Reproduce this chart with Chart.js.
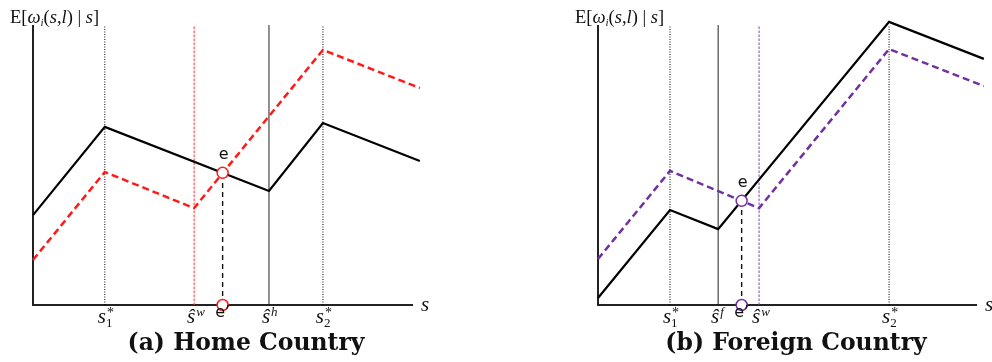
<!DOCTYPE html>
<html>
<head>
<meta charset="utf-8">
<script src="https://cdn.jsdelivr.net/npm/chart.js@4.4.1/dist/chart.umd.min.js"></script>
<style>
  html, body { margin: 0; padding: 0; background: #fff; }
  #wrap { position: relative; width: 992px; height: 362px; overflow: hidden; background: #fff; }
  canvas { position: absolute; top: 0; }
  #home { left: 0; }
  #foreign { left: 496px; }
</style>
</head>
<body>
<div id="wrap">
  <canvas id="home" width="496" height="362"></canvas>
  <canvas id="foreign" width="496" height="362"></canvas>
</div>
<script>
// ---- Home country: expected wage schedules over skill s ----
const homeBlackS = [0, 18.9, 62.1, 76.3, 101.8];
const homeBlackW = [32.1, 63.6, 40.7, 65.0, 51.4];
const homeRedS   = [0, 18.9, 42.4, 76.3, 101.8];
const homeRedW   = [16.1, 47.5, 34.6, 91.1, 77.5];
const homeCuts   = [18.9, 42.4, 62.1, 76.3];          // s1*, ŝw, ŝh, s2*
const homeEq     = [49.9, 47.2];                      // crossing point e

// ---- Foreign country ----
const foreignBlackS  = [0, 19.0, 31.7, 76.8, 101.8];
const foreignBlackW  = [2.5, 33.9, 27.1, 101.1, 87.9];
const foreignPurpleS = [0, 19.0, 42.5, 76.8, 101.8];
const foreignPurpleW = [16.4, 47.9, 34.6, 91.4, 78.2];
const foreignCuts    = [19.0, 31.7, 42.5, 76.8];      // s1*, ŝf, ŝw, s2*
const foreignEq      = [37.9, 37.2];

// ---- tick labels (base glyph, superscript, subscript) ----
const homeTicks    = [['s', '*', '1'], ['ŝ', 'w', ''], ['ŝ', 'h', ''], ['s', '*', '2']];
const foreignTicks = [['s', '*', '1'], ['ŝ', 'f', ''], ['ŝ', 'w', ''], ['s', '*', '2']];

const homeTitle = '(a) Home Country';
const foreignTitle = '(b) Foreign Country';

const pts = (xs, ys) => xs.map((x, i) => ({ x, y: ys[i] }));

const SERIF = '"Liberation Serif", "Times New Roman", serif';

function drawParts(ctx, x, y, parts) {
  let cx = x;
  parts.forEach(p => {
    ctx.font = p[1];
    ctx.fillText(p[0], cx, y + (p[2] || 0));
    cx += ctx.measureText(p[0]).width;
  });
}

function drawTick(ctx, x, base, t) {
  const [g, sup, sub] = t;
  ctx.font = 'italic 21px ' + SERIF;
  const w = ctx.measureText(g).width;
  const left = x - 3 - w / 2;
  ctx.textAlign = 'left';
  ctx.fillText(g, left, base);
  const right = left + w;
  if (sup === '*') {
    ctx.font = '14px ' + SERIF;
    ctx.fillText('*', right + 1, base - 6);
  } else if (sup) {
    ctx.font = 'italic 13px ' + SERIF;
    ctx.fillText(sup, right + 1, base - 7);
  }
  if (sub) {
    ctx.font = '13px ' + SERIF;
    ctx.fillText(sub, right, base + 4);
  }
}

const Y_FONT = '18.5px ' + SERIF, Y_IT = 'italic 18.5px ' + SERIF;
const yLabelParts = [
  ['E[', Y_FONT],
  ['ω', Y_IT],
  ['i', 'italic 11px ' + SERIF, 3],
  ['(', Y_FONT],
  ['s', Y_IT],
  [',', Y_FONT],
  ['l', Y_IT],
  [') | ', Y_FONT],
  ['s', Y_IT],
  [']', Y_FONT]
];

const panelText = {
  id: 'panelText',
  afterDraw(chart, args, o) {
    const ctx = chart.ctx, xs = chart.scales.x, ys = chart.scales.y;
    const x0 = xs.getPixelForValue(0), y0 = ys.getPixelForValue(0);
    ctx.save();
    ctx.fillStyle = '#111';
    ctx.textBaseline = 'alphabetic';
    ctx.textAlign = 'left';
    drawParts(ctx, x0 - 23, 23, yLabelParts);

    ctx.font = 'italic 21px ' + SERIF;
    ctx.fillText('s', xs.getPixelForValue(100) + 8, y0 + 6);

    o.cuts.forEach((v, i) => drawTick(ctx, xs.getPixelForValue(v), y0 + 18, o.ticks[i]));

    const ex = xs.getPixelForValue(o.eq[0]), ey = ys.getPixelForValue(o.eq[1]);
    ctx.textAlign = 'center';
    ctx.font = '16px "DejaVu Sans", sans-serif';
    ctx.fillText('e', ex + 1, ey - 14);
    ctx.fillText('e\u2019', ex, y0 + 12);

    ctx.font = 'bold 23.5px "DejaVu Serif", serif';
    ctx.fillText(o.title, o.titleX, 350);
    ctx.restore();
  }
};

function makePanel(id, c) {
  const cutSets = c.cuts.map((v, i) => ({
    data: [{ x: v, y: 0 }, { x: v, y: 100 }],
    showLine: true,
    borderColor: c.cutStyle[i][0],
    borderWidth: 1,
    borderDash: c.cutStyle[i][1],
    pointRadius: 0
  }));
  return new Chart(document.getElementById(id), {
    type: 'scatter',
    data: {
      datasets: [
        { // e and e' markers
          data: [{ x: c.eq[0], y: c.eq[1] }, { x: c.eq[0], y: 0 }],
          showLine: false,
          pointRadius: 5.5,
          pointBorderWidth: 1.5,
          borderColor: c.accent,
          backgroundColor: '#fff',
          clip: false
        },
        { // solid wage schedule
          data: pts(c.blackS, c.blackW),
          showLine: true, borderColor: '#000', borderWidth: 2.2, pointRadius: 0, clip: false
        },
        { // dashed wage schedule
          data: pts(c.accS, c.accW),
          showLine: true, borderColor: c.accent, borderWidth: 2.5, borderDash: [7, 4],
          pointRadius: 0, clip: false
        },
        { // drop line from e to e'
          data: [{ x: c.eq[0], y: 0 }, { x: c.eq[0], y: c.eq[1] }],
          showLine: true, borderColor: '#111', borderWidth: 1.4, borderDash: [5, 4], pointRadius: 0
        },
        ...cutSets,
        { // axes
          data: [{ x: 0, y: 100 }, { x: 0, y: 0 }, { x: 100, y: 0 }],
          showLine: true, borderColor: '#222', borderWidth: 2, pointRadius: 0, clip: false
        }
      ]
    },
    options: {
      responsive: false,
      animation: false,
      devicePixelRatio: 1,
      events: [],
      layout: { padding: c.padding },
      scales: {
        x: { type: 'linear', min: 0, max: 100, display: false },
        y: { type: 'linear', min: 0, max: 100, display: false }
      },
      plugins: {
        legend: { display: false },
        tooltip: { enabled: false },
        panelText: { cuts: c.cuts, ticks: c.ticks, eq: c.eq, title: c.title, titleX: c.titleX }
      }
    },
    plugins: [panelText]
  });
}

const DOT = [1, 1.5];
makePanel('home', {
  blackS: homeBlackS, blackW: homeBlackW, accS: homeRedS, accW: homeRedW,
  accent: '#ff1a1a', cuts: homeCuts, ticks: homeTicks, eq: homeEq,
  cutStyle: [['#000', DOT], ['#ff3030', [2.5, 1.5]], ['#222', []], ['#000', DOT]],
  padding: { left: 33, right: 83, top: 25, bottom: 57 },
  title: homeTitle, titleX: 246
});
makePanel('foreign', {
  blackS: foreignBlackS, blackW: foreignBlackW, accS: foreignPurpleS, accW: foreignPurpleW,
  accent: '#7030a0', cuts: foreignCuts, ticks: foreignTicks, eq: foreignEq,
  cutStyle: [['#000', DOT], ['#222', []], ['#8040b0', [2.5, 1.5]], ['#000', DOT]],
  padding: { left: 102, right: 15, top: 25, bottom: 57 },
  title: foreignTitle, titleX: 300
});
</script>
</body>
</html>
